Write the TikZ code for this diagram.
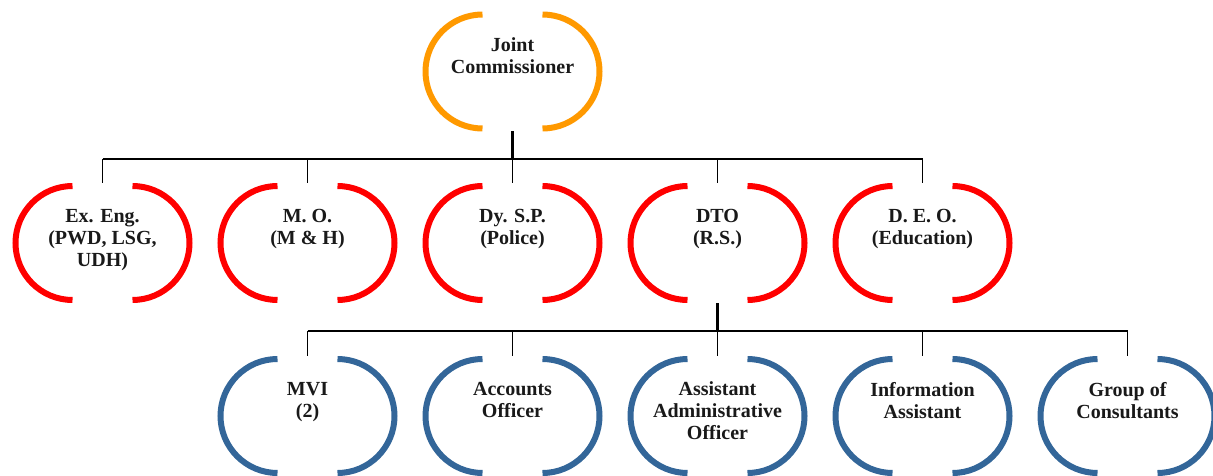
\documentclass[tikz,border=0pt]{standalone}
\usepackage{fontspec}
\setmainfont{Liberation Serif}
\definecolor{orgorange}{RGB}{255,153,0}
\definecolor{orgred}{RGB}{255,0,0}
\definecolor{orgblue}{RGB}{51,102,153}
\newcommand{\orgtext}[1]{\parbox[c][120pt][t]{176pt}{\centering\vspace*{26pt}\rule{0pt}{13pt}#1\par}}
\tikzset{
  orgnode/.style={inner sep=0pt, outer sep=0pt, font=\fontsize{20pt}{22pt}\selectfont\bfseries, text=black!90},
  arcline/.style={line width=6pt},
  trunk/.style={line width=2.6pt},
  bus/.style={line width=2pt},
  stub/.style={line width=1.4pt},
}
\begin{document}
\begin{tikzpicture}[x=1pt,y=1pt]
\useasboundingbox (0,0) rectangle (1213,475);
% nodes
\node[orgnode] (jc)  at (512.5,403.5) {\orgtext{Joint\\Commissioner}};
\node[orgnode] (ee)  at (102.5,232) {\orgtext{Ex. Eng.\\(PWD, LSG,\\UDH)}};
\node[orgnode] (mo)  at (307.5,232) {\orgtext{M. O.\\(M \& H)}};
\node[orgnode] (dsp) at (512.5,232) {\orgtext{Dy. S.P.\\(Police)}};
\node[orgnode] (dto) at (717.5,232) {\orgtext{DTO\\(R.S.)}};
\node[orgnode] (deo) at (922.5,232) {\orgtext{D. E. O.\\(Education)}};
\node[orgnode] (mvi) at (307.5,59) {\orgtext{MVI\\(2)}};
\node[orgnode] (ao)  at (512.5,59) {\orgtext{Accounts\\Officer}};
\node[orgnode] (aao) at (717.5,59) {\orgtext{Assistant\\Administrative\\Officer}};
\node[orgnode] (ia)  at (922.5,59) {\orgtext{Information\\Assistant}};
\node[orgnode] (gc)  at (1127.5,59) {\orgtext{Group of\\Consultants}};
% bracket arcs
\foreach \n/\c in {jc/orgorange, ee/orgred, mo/orgred, dsp/orgred, dto/orgred, deo/orgred,
                   mvi/orgblue, ao/orgblue, aao/orgblue, ia/orgblue, gc/orgblue} {
  \draw[arcline, \c] ([xshift=-30pt,yshift=57pt]\n.center) arc[start angle=90, end angle=270, radius=57pt];
  \draw[arcline, \c] ([xshift=30pt,yshift=-57pt]\n.center) arc[start angle=-90, end angle=90, radius=57pt];
}
% connectors level 1
\coordinate (b1) at (512.5,316);
\draw[trunk] (jc.south) -- (b1);
\draw[bus] (ee.north |- b1) -- (deo.north |- b1);
\foreach \n in {ee,mo,dsp,dto,deo} \draw[stub] (\n.north |- b1) -- (\n.north);
% connectors level 2
\coordinate (b2) at (717.5,144);
\draw[trunk] (dto.south) -- (b2);
\draw[bus] (mvi.north |- b2) -- (gc.north |- b2);
\foreach \n in {mvi,ao,aao,ia,gc} \draw[stub] (\n.north |- b2) -- (\n.north);
\end{tikzpicture}
\end{document}
